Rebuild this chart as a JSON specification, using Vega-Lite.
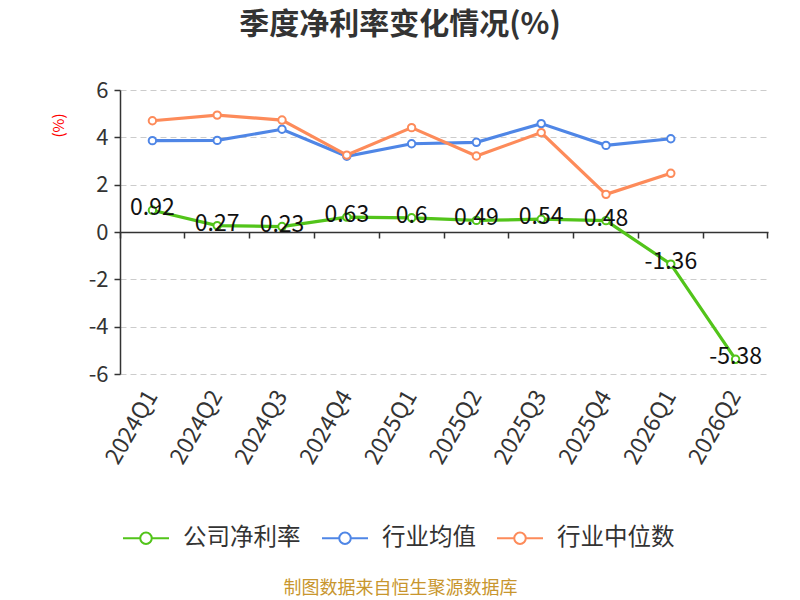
{
  "$schema": "https://vega.github.io/schema/vega-lite/v6.json",
  "autosize": {"type": "none"},
  "width": 648,
  "height": 284,
  "padding": {"left": 120, "top": 90, "right": 32, "bottom": 226},
  "background": "white",
  "title": {
    "text": "季度净利率变化情况(%)",
    "fontSize": 30,
    "fontWeight": "bold",
    "color": "#333333",
    "anchor": "middle",
    "frame": "group",
    "dx": -44,
    "offset": 39
  },
  "data": {
    "values": [
      {"q": "2024Q1", "s": "公司净利率", "v": 0.92},
      {"q": "2024Q2", "s": "公司净利率", "v": 0.27},
      {"q": "2024Q3", "s": "公司净利率", "v": 0.23},
      {"q": "2024Q4", "s": "公司净利率", "v": 0.63},
      {"q": "2025Q1", "s": "公司净利率", "v": 0.6},
      {"q": "2025Q2", "s": "公司净利率", "v": 0.49},
      {"q": "2025Q3", "s": "公司净利率", "v": 0.54},
      {"q": "2025Q4", "s": "公司净利率", "v": 0.48},
      {"q": "2026Q1", "s": "公司净利率", "v": -1.36},
      {"q": "2026Q2", "s": "公司净利率", "v": -5.38},
      {"q": "2024Q1", "s": "行业均值", "v": 3.86},
      {"q": "2024Q2", "s": "行业均值", "v": 3.87},
      {"q": "2024Q3", "s": "行业均值", "v": 4.34},
      {"q": "2024Q4", "s": "行业均值", "v": 3.2},
      {"q": "2025Q1", "s": "行业均值", "v": 3.73},
      {"q": "2025Q2", "s": "行业均值", "v": 3.79},
      {"q": "2025Q3", "s": "行业均值", "v": 4.58},
      {"q": "2025Q4", "s": "行业均值", "v": 3.66},
      {"q": "2026Q1", "s": "行业均值", "v": 3.94},
      {"q": "2024Q1", "s": "行业中位数", "v": 4.7},
      {"q": "2024Q2", "s": "行业中位数", "v": 4.94},
      {"q": "2024Q3", "s": "行业中位数", "v": 4.73},
      {"q": "2024Q4", "s": "行业中位数", "v": 3.25},
      {"q": "2025Q1", "s": "行业中位数", "v": 4.41},
      {"q": "2025Q2", "s": "行业中位数", "v": 3.21},
      {"q": "2025Q3", "s": "行业中位数", "v": 4.2},
      {"q": "2025Q4", "s": "行业中位数", "v": 1.59},
      {"q": "2026Q1", "s": "行业中位数", "v": 2.48}
    ]
  },
  "layer": [
    {
      "mark": {"type": "line", "strokeWidth": 3.2},
      "encoding": {
        "x": {
          "field": "q",
          "type": "ordinal",
          "bandPosition": 0.5,
          "scale": {"type": "band", "paddingInner": 0, "paddingOuter": 0},
          "axis": {
            "orient": "bottom",
            "labelAngle": -60,
            "labelFontSize": 23,
            "labelColor": "#333333",
            "labelPadding": 18,
            "domain": false,
            "ticks": false,
            "grid": false,
            "title": "制图数据来自恒生聚源数据库",
            "titleX": 280,
            "titleY": 214,
            "titleAlign": "center",
            "titleBaseline": "middle",
            "titleFontSize": 18,
            "titleFontWeight": "normal",
            "titleColor": "#c8962e"
          }
        },
        "y": {
          "field": "v",
          "type": "quantitative",
          "scale": {"domain": [-6, 6], "nice": false, "zero": false},
          "axis": {
            "values": [-6, -4, -2, 0, 2, 4, 6],
            "labelFontSize": 22,
            "labelColor": "#333333",
            "labelPadding": 6,
            "domainColor": "#333333",
            "domainWidth": 1.5,
            "tickColor": "#333333",
            "tickWidth": 1.5,
            "tickSize": 6,
            "gridColor": "#cccccc",
            "gridDash": [6, 4],
            "title": "(%)",
            "titleColor": "red",
            "titleFontSize": 15,
            "titleFontWeight": "normal",
            "titleX": -62,
            "titleY": 35,
            "titleAlign": "center",
            "titleBaseline": "middle",
            "titleAngle": -90
          }
        },
        "color": {
          "field": "s",
          "type": "nominal",
          "scale": {
            "domain": ["公司净利率", "行业均值", "行业中位数"],
            "range": ["#52c41a", "#4f86e6", "#fd8b5a"]
          },
          "legend": {
            "orient": "none",
            "legendX": 2,
            "legendY": 424,
            "direction": "horizontal",
            "title": null,
            "labelFontSize": 23.5,
            "labelColor": "#333333",
            "labelOffset": 13,
            "columnPadding": 17,
            "symbolType": "M-1,0H-0.25M0.25,0H1M0.25,0A0.25,0.25,0,1,1,-0.25,0A0.25,0.25,0,1,1,0.25,0",
            "symbolSize": 2116,
            "symbolStrokeWidth": 2,
            "symbolFillColor": "transparent"
          }
        }
      }
    },
    {
      "mark": {"type": "point", "filled": false, "fill": "white", "size": 55, "strokeWidth": 2, "opacity": 1},
      "encoding": {
        "x": {
          "field": "q",
          "type": "ordinal",
          "bandPosition": 0.5,
          "axis": {
            "orient": "bottom",
            "offset": -142,
            "labels": false,
            "domain": true,
            "domainColor": "#333333",
            "domainWidth": 1.5,
            "ticks": true,
            "tickColor": "#333333",
            "tickWidth": 1.5,
            "tickSize": 6,
            "bandPosition": 1,
            "tickExtra": true,
            "grid": false,
            "title": null
          }
        },
        "y": {"field": "v", "type": "quantitative"},
        "color": {"field": "s", "type": "nominal"}
      }
    },
    {
      "transform": [{"filter": "datum.s === '公司净利率'"}],
      "mark": {"type": "text", "fontSize": 23, "color": "#111111", "baseline": "middle", "dy": -2},
      "encoding": {
        "x": {"field": "q", "type": "ordinal", "bandPosition": 0.5, "axis": null},
        "y": {"field": "v", "type": "quantitative"},
        "text": {"field": "v", "type": "quantitative"}
      }
    }
  ],
  "resolve": {"axis": {"x": "independent"}},
  "config": {
    "font": "Noto Sans CJK SC",
    "view": {"stroke": null},
    "locale": {
      "number": {
        "decimal": ".",
        "thousands": ",",
        "grouping": [3],
        "currency": ["", ""],
        "minus": "-"
      }
    }
  }
}
